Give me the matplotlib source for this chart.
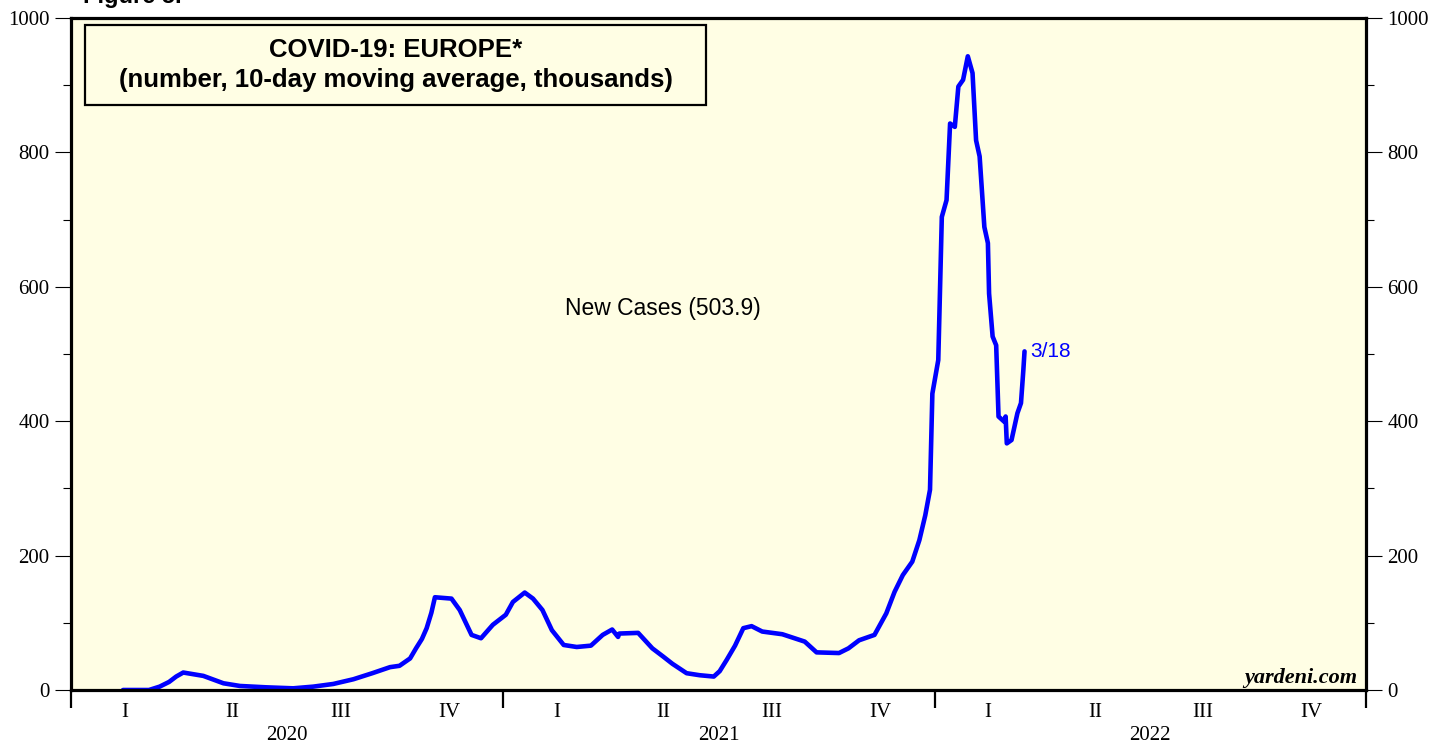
import numpy as np
import pandas as pd
import matplotlib
matplotlib.use("Agg")
import matplotlib.pyplot as plt
import matplotlib.transforms as mtransforms
from matplotlib.patches import Rectangle

# New cases, 10-day moving average, thousands
dates = [
    "2020-02-14", "2020-03-07", "2020-03-16", "2020-03-24", "2020-03-30", "2020-04-05",
    "2020-04-22", "2020-05-09", "2020-05-23", "2020-06-14", "2020-07-07", "2020-07-24",
    "2020-08-10", "2020-08-27", "2020-09-12", "2020-09-27", "2020-10-05", "2020-10-14",
    "2020-10-19", "2020-10-24", "2020-10-28", "2020-11-01", "2020-11-04", "2020-11-18",
    "2020-11-25", "2020-12-05", "2020-12-13", "2020-12-23", "2021-01-03", "2021-01-09",
    "2021-01-19", "2021-01-26", "2021-02-03", "2021-02-11", "2021-02-21", "2021-03-04",
    "2021-03-16", "2021-03-26", "2021-04-03", "2021-04-08", "2021-04-09", "2021-04-25",
    "2021-05-07", "2021-05-16", "2021-05-24", "2021-06-05", "2021-06-16", "2021-06-28",
    "2021-07-03", "2021-07-09", "2021-07-16", "2021-07-23", "2021-07-30", "2021-08-08",
    "2021-08-25", "2021-09-13", "2021-09-23", "2021-10-12", "2021-10-20", "2021-10-29",
    "2021-11-11", "2021-11-21", "2021-11-28", "2021-12-05", "2021-12-13", "2021-12-19",
    "2021-12-24", "2021-12-28", "2021-12-30", "2022-01-04", "2022-01-07", "2022-01-11",
    "2022-01-14", "2022-01-18", "2022-01-21", "2022-01-25", "2022-01-29", "2022-02-02",
    "2022-02-05", "2022-02-08", "2022-02-12", "2022-02-15", "2022-02-16", "2022-02-19",
    "2022-02-22", "2022-02-24", "2022-03-01", "2022-03-02", "2022-03-03", "2022-03-07",
    "2022-03-12", "2022-03-15", "2022-03-17", "2022-03-18",
]
new_cases = [
    0, 0, 5, 12, 20, 26,
    21, 10, 6, 4, 2.5, 5,
    9, 16, 25, 34, 36, 47,
    62, 76, 92, 115, 138, 136,
    119, 82, 77, 97, 112, 131,
    145, 136, 119, 89, 67, 64,
    66, 82, 90, 79, 84, 85,
    62, 50, 39, 25, 22, 20,
    28, 45, 66, 92, 95, 87,
    83, 72, 56, 55, 62, 74,
    82, 114, 146, 171, 191, 223,
    260, 298, 441, 491, 704, 729,
    843, 838, 898, 908, 943, 918,
    818, 794, 689, 665, 590, 526,
    513, 407, 399, 407, 367, 372,
    412, 427, 476, 503.9,
]

quarters = ["I", "II", "III", "IV"]
years = [2020, 2021, 2022]
last_label = "3/18"

x = pd.to_datetime(dates)

fig = plt.figure(figsize=(14.48, 7.46), dpi=100, facecolor="white")
ax = fig.add_axes([71 / 1448, 56 / 746, 1295 / 1448, 672 / 746])
ax.set_facecolor("#fffee4")

ax.plot(x, new_cases, color="#0000ff", lw=3.3, solid_joinstyle="round",
        solid_capstyle="round")

ax.set_xlim(pd.Timestamp("2020-01-01"), pd.Timestamp("2023-01-01"))
ax.set_ylim(0, 1000)

for s in ax.spines.values():
    s.set_linewidth(2.3)

# y axis: both sides
ax.set_yticks(np.arange(0, 1001, 200))
ax.set_yticks(np.arange(100, 1000, 200), minor=True)
ax.tick_params(axis="y", which="major", direction="out", length=11.5, width=0.8,
               left=True, right=True, labelleft=True, labelright=True, pad=4,
               labelsize=15)
ax.tick_params(axis="y", which="minor", direction="out", length=5.8, width=0.8,
               left=True, right=True)
for lab in ax.get_yticklabels():
    lab.set_fontfamily("Liberation Serif")

# x axis: year boundary ticks, quarter and year labels as text
ax.set_xticks([pd.Timestamp(f"{y}-01-01") for y in years + [2023]])
ax.set_xticklabels([])
ax.xaxis.set_minor_locator(matplotlib.ticker.NullLocator())
ax.tick_params(axis="x", which="major", direction="out", length=13, width=1.6)

trans = mtransforms.blended_transform_factory(ax.transData, ax.transAxes)
for y in years:
    for i, q in enumerate(quarters):
        q0 = pd.Timestamp(f"{y}-{3 * i + 1:02d}-01")
        q1 = pd.Timestamp(f"{y + 1}-01-01") if i == 3 else pd.Timestamp(f"{y}-{3 * i + 4:02d}-01")
        mid = q0 + (q1 - q0) / 2
        ax.text(mid, -0.034, q, transform=trans, ha="center", va="center",
                fontsize=15, family="Liberation Serif")
    ymid = pd.Timestamp(f"{y}-01-01") + (pd.Timestamp(f"{y + 1}-01-01") - pd.Timestamp(f"{y}-01-01")) / 2
    ax.text(ymid, -0.067, str(y), transform=trans, ha="center", va="center",
            fontsize=15, family="Liberation Serif")

# title box
ax.add_patch(Rectangle((0.0108, 0.8705), 0.4795, 0.119, transform=ax.transAxes,
                       fill=False, edgecolor="black", lw=1.6, zorder=5))
ax.text(0.2506, 0.9524, "COVID-19: EUROPE*", transform=ax.transAxes,
        ha="center", va="center", fontsize=18.5, fontweight="bold",
        family="Liberation Sans", zorder=6)
ax.text(0.2506, 0.9077, "(number, 10-day moving average, thousands)",
        transform=ax.transAxes, ha="center", va="center", fontsize=18.5,
        fontweight="bold", family="Liberation Sans", zorder=6)

ax.text(0.457, 0.567, f"New Cases ({new_cases[-1]})", transform=ax.transAxes,
        ha="center", va="center", fontsize=16.5, family="Liberation Sans")

ax.annotate(last_label, xy=(x[-1], new_cases[-1]), xytext=(4, 0),
            textcoords="offset points", ha="left", va="center",
            fontsize=15, color="#0000ff", family="Liberation Sans")

ax.text(0.993, 0.0104, "yardeni.com", transform=ax.transAxes, ha="right",
        va="baseline", fontsize=16, fontweight="bold", fontstyle="italic",
        family="Liberation Serif")

# figure label, cut off at the top edge as in the source
fig.text(83 / 1448, 1 - 3 / 746, "Figure 5.", ha="left", va="baseline",
         fontsize=17, fontweight="bold", family="Liberation Sans")

fig.savefig("out.png", dpi=100)
